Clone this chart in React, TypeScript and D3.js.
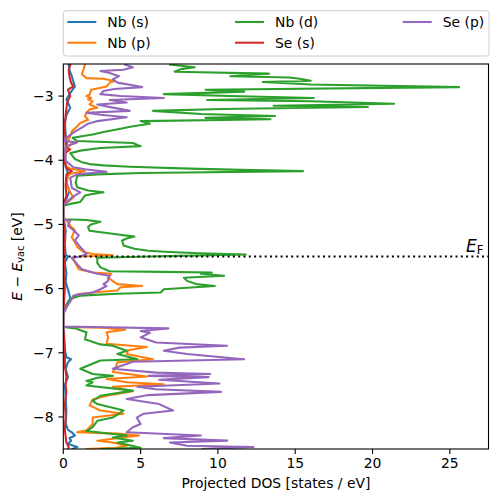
import React from 'react';
import * as d3 from 'd3';

type Pt = [number, number]; // [energy (eV), projected DOS (states/eV)]

const nbS: Pt[] = [
  [-2.51, 0.35], [-2.6, 0.4], [-2.69, 0.55], [-2.85, 0.75], [-2.95, 0.45], [-3.05, 0.2], [-3.18, 0.45],
  [-3.3, 0.2], [-3.4, 0.1], [-3.6, 0.15], [-3.72, 0.25], [-3.85, 0.1], [-4.1, 0.15], [-4.2, 0.3],
  [-4.35, 0.2], [-4.48, 0.4], [-4.6, 0.2], [-4.7, 0], [-4.92, 0], [-5.0, 0.1], [-5.1, 0.15], [-5.3, 0.1],
  [-5.47, 0.15], [-5.5, 0.3], [-5.6, 0.1], [-5.75, 0.2], [-5.9, 0.15], [-6.01, 0.3], [-6.15, 0.45],
  [-6.25, 0.2], [-6.39, 0], [-6.6, 0], [-6.7, 0.05], [-6.95, 0.1], [-7.07, 0.2], [-7.1, 0.5], [-7.15, 0.3],
  [-7.25, 0.15], [-7.38, 0.3], [-7.5, 0.1], [-7.7, 0.15], [-7.9, 0.2], [-8.1, 0.15], [-8.2, 0.3],
  [-8.24, 0.55], [-8.29, 0.75], [-8.33, 0.4], [-8.37, 0.5], [-8.42, 0.3], [-8.47, 0.9], [-8.5, 0.6],
];

const nbP: Pt[] = [
  [-2.51, 1.4], [-2.59, 1.3], [-2.66, 1.2], [-2.72, 1.5], [-2.73, 2.6], [-2.77, 3.3], [-2.79, 3.0],
  [-2.85, 2.8], [-2.9, 1.8], [-2.98, 1.7], [-3.0, 1.5], [-3.03, 1.8], [-3.05, 1.6], [-3.08, 1.9],
  [-3.13, 1.7], [-3.18, 2.2], [-3.21, 1.7], [-3.26, 1.5], [-3.31, 1.4], [-3.37, 1.6], [-3.42, 1.1],
  [-3.47, 0.9], [-3.55, 0.55], [-3.62, 0.45], [-3.7, 0.3], [-3.73, 0.8], [-3.76, 0.45], [-3.83, 0.2],
  [-3.88, 0.1], [-4.01, 0.1], [-4.1, 0.2], [-4.13, 0.45], [-4.17, 1.4], [-4.21, 0.45], [-4.24, 0.3],
  [-4.39, 0.2], [-4.5, 0.45], [-4.58, 0.65], [-4.65, 0.3], [-4.71, 0], [-4.92, 0], [-4.94, 0.2],
  [-5.02, 0.45], [-5.09, 0.75], [-5.2, 0.55], [-5.28, 0.75], [-5.35, 0.9], [-5.43, 1.3], [-5.46, 1.9],
  [-5.48, 3.2], [-5.5, 1.1], [-5.52, 0.55], [-5.59, 0.75], [-5.7, 1.0], [-5.75, 1.9], [-5.77, 3.1],
  [-5.83, 2.9], [-5.9, 3.3], [-5.93, 3.5], [-5.96, 5.1], [-5.98, 3.7], [-6.03, 3.5], [-6.06, 1.9],
  [-6.09, 0.9], [-6.14, 0.65], [-6.19, 0.45], [-6.29, 0.2], [-6.39, 0], [-6.6, 0], [-6.61, 2.5],
  [-6.64, 4.0], [-6.68, 2.8], [-6.76, 2.9], [-6.86, 2.8], [-6.91, 5.4], [-6.96, 4.2], [-7.02, 4.1],
  [-7.1, 5.8], [-7.15, 3.5], [-7.22, 3.4], [-7.3, 3.2], [-7.37, 5.4], [-7.41, 2.8], [-7.46, 4.1],
  [-7.49, 6.5], [-7.53, 3.2], [-7.6, 4.5], [-7.67, 2.8], [-7.73, 1.9], [-7.82, 1.7], [-7.9, 2.4],
  [-7.95, 3.9], [-8.01, 1.9], [-8.11, 1.9], [-8.21, 1.5], [-8.24, 0.9], [-8.26, 3.5], [-8.29, 4.9],
  [-8.37, 2.2], [-8.4, 3.2], [-8.45, 4.1], [-8.48, 3.4], [-8.5, 1.5],
];

const nbD: Pt[] = [
  [-2.51, 6.9], [-2.55, 8.5], [-2.58, 7.6], [-2.62, 7.2], [-2.65, 13.3], [-2.69, 10.8], [-2.71, 14.6],
  [-2.73, 15.3], [-2.76, 16.0], [-2.78, 12.9], [-2.82, 16.0], [-2.86, 25.6], [-2.9, 9.2], [-2.93, 11.7],
  [-2.95, 9.2], [-2.97, 6.5], [-3.0, 10.8], [-3.03, 16.2], [-3.06, 9.3], [-3.08, 16.0], [-3.12, 21.4],
  [-3.15, 13.6], [-3.17, 19.7], [-3.2, 10.2], [-3.23, 5.8], [-3.28, 8.9], [-3.31, 13.7], [-3.34, 9.2],
  [-3.36, 13.4], [-3.39, 5.0], [-3.43, 5.6], [-3.47, 4.5], [-3.51, 3.7], [-3.56, 2.6], [-3.6, 1.9],
  [-3.65, 0.6], [-3.7, 0.9], [-3.73, 4.5], [-3.78, 5.0], [-3.81, 2.4], [-3.85, 1.1], [-3.89, 0.45],
  [-3.98, 0.75], [-4.03, 1.2], [-4.06, 1.7], [-4.08, 2.6], [-4.1, 4.3], [-4.13, 8.2], [-4.15, 11.5],
  [-4.17, 15.5], [-4.19, 8.0], [-4.2, 5.0], [-4.22, 2.2], [-4.24, 0.9], [-4.35, 0.8], [-4.42, 0.9],
  [-4.47, 1.6], [-4.5, 2.6], [-4.53, 1.8], [-4.55, 1.4], [-4.65, 1.1], [-4.68, 0.45], [-4.71, 0],
  [-4.92, 0], [-4.93, 1.5], [-4.96, 2.4], [-5.0, 1.8], [-5.04, 1.6], [-5.1, 1.7], [-5.15, 3.3],
  [-5.19, 4.6], [-5.22, 4.1], [-5.25, 3.8], [-5.33, 3.9], [-5.38, 4.6], [-5.41, 5.5], [-5.43, 6.9],
  [-5.45, 8.8], [-5.47, 11.8], [-5.49, 7.5], [-5.5, 5.6], [-5.52, 2.2], [-5.6, 2.2], [-5.67, 2.4],
  [-5.73, 3.0], [-5.74, 6.5], [-5.75, 9.6], [-5.77, 8.9], [-5.8, 10.4], [-5.83, 7.8], [-5.88, 8.0],
  [-5.93, 8.6], [-5.96, 9.8], [-6.01, 6.5], [-6.06, 6.3], [-6.08, 3.5], [-6.11, 1.1], [-6.16, 0.45],
  [-6.25, 0.25], [-6.35, 0.1], [-6.39, 0], [-6.6, 0], [-6.62, 0.8], [-6.65, 1.1], [-6.68, 1.5],
  [-6.79, 1.4], [-6.87, 2.4], [-6.89, 3.2], [-6.97, 4.1], [-7.02, 3.5], [-7.1, 4.8], [-7.12, 2.4],
  [-7.25, 1.1], [-7.33, 1.9], [-7.36, 3.2], [-7.39, 2.2], [-7.44, 1.5], [-7.46, 1.9], [-7.51, 1.5],
  [-7.59, 4.5], [-7.67, 2.4], [-7.75, 1.9], [-7.8, 2.2], [-7.9, 3.9], [-8.01, 3.2], [-8.06, 2.2],
  [-8.16, 1.9], [-8.22, 1.5], [-8.29, 4.1], [-8.32, 3.2], [-8.37, 4.5], [-8.4, 3.5], [-8.48, 5.0],
  [-8.5, 2.4],
];

const seS: Pt[] = [
  [-2.51, 0.45], [-2.6, 0.35], [-2.7, 0.4], [-2.79, 0.5], [-2.85, 0.65], [-2.9, 0.3], [-3.0, 0.45],
  [-3.1, 0.25], [-3.2, 0.2], [-3.3, 0.15], [-3.5, 0.1], [-3.8, 0.15], [-3.83, 0.45], [-3.88, 0.15],
  [-4.05, 0.1], [-4.13, 0.25], [-4.17, 0.55], [-4.22, 0.2], [-4.4, 0.15], [-4.55, 0.2], [-4.7, 0],
  [-4.92, 0], [-5.1, 0.05], [-5.4, 0.05], [-5.5, 0.1], [-5.8, 0.05], [-6.0, 0.1], [-6.39, 0], [-6.6, 0],
  [-6.8, 0.05], [-7.0, 0.1], [-7.2, 0.1], [-7.38, 0.2], [-7.5, 0.15], [-7.6, 0.2], [-7.8, 0.1],
  [-8.0, 0.15], [-8.2, 0.1], [-8.4, 0.2], [-8.47, 0.35], [-8.5, 0.3],
];

const seP: Pt[] = [
  [-2.51, 4.0], [-2.55, 4.5], [-2.59, 3.9], [-2.61, 2.4], [-2.64, 3.0], [-2.69, 3.6], [-2.74, 3.2],
  [-2.79, 3.5], [-2.86, 5.1], [-2.89, 3.3], [-2.92, 2.6], [-2.97, 2.4], [-3.0, 3.7], [-3.03, 6.5],
  [-3.06, 3.0], [-3.1, 4.1], [-3.13, 2.2], [-3.18, 3.2], [-3.23, 4.3], [-3.26, 1.5], [-3.29, 2.4],
  [-3.33, 4.1], [-3.39, 2.2], [-3.43, 1.6], [-3.49, 1.2], [-3.57, 0.65], [-3.65, 0.2], [-3.7, 0.05],
  [-3.72, 0.9], [-3.78, 0.2], [-3.85, 0.1], [-4.01, 0.15], [-4.11, 0.65], [-4.14, 1.4], [-4.18, 2.8],
  [-4.22, 0.9], [-4.27, 0.45], [-4.43, 0.55], [-4.5, 1.1], [-4.58, 0.55], [-4.68, 0.1], [-4.71, 0],
  [-4.92, 0], [-4.94, 0.45], [-5.02, 0.3], [-5.09, 0.65], [-5.17, 1.0], [-5.25, 0.75], [-5.38, 1.2],
  [-5.46, 1.5], [-5.5, 1.1], [-5.52, 0.55], [-5.62, 0.9], [-5.7, 1.2], [-5.77, 2.2], [-5.8, 3.0],
  [-5.85, 2.9], [-5.88, 2.9], [-5.93, 2.6], [-5.96, 2.8], [-6.01, 2.4], [-6.06, 1.9], [-6.09, 1.1],
  [-6.11, 0.65], [-6.16, 0.55], [-6.29, 0.2], [-6.39, 0], [-6.59, 0], [-6.62, 6.8], [-6.66, 5.0],
  [-6.69, 5.6], [-6.76, 5.0], [-6.84, 6.0], [-6.89, 10.6], [-6.92, 7.5], [-6.97, 6.5], [-7.02, 8.0],
  [-7.1, 11.7], [-7.14, 4.5], [-7.25, 3.2], [-7.31, 6.0], [-7.33, 9.5], [-7.36, 5.5], [-7.38, 9.4],
  [-7.42, 6.2], [-7.48, 10.1], [-7.53, 4.8], [-7.57, 6.0], [-7.61, 10.2], [-7.66, 5.5], [-7.72, 4.1],
  [-7.8, 6.2], [-7.9, 7.1], [-7.95, 5.2], [-8.01, 4.75], [-8.11, 5.0], [-8.16, 4.5], [-8.24, 4.1],
  [-8.29, 8.9], [-8.33, 6.5], [-8.37, 10.6], [-8.4, 6.9], [-8.45, 8.0], [-8.47, 12.3], [-8.5, 9.0],
];

const seriesLabels = ['Nb (s)', 'Nb (p)', 'Nb (d)', 'Se (s)', 'Se (p)'];
const seriesColors = ['#1f77b4', '#ff7f0e', '#2ca02c', '#d62728', '#9467bd'];
const seriesData = [nbS, nbP, nbD, seS, seP];

const xTicks = [0, 5, 10, 15, 20, 25];
const yTicks = [-3, -4, -5, -6, -7, -8];
const xDomain: [number, number] = [0, 27.5];
const yDomain: [number, number] = [-8.5, -2.5];
const fermiLevel = -5.5;

const W = 498;
const H = 502;
const M = { left: 63.3, right: 488.5, top: 64, bottom: 449 };
const FONT = 'DejaVu Sans';
const FS = 13.9;
const LW = 2.08;

export default function App() {
  const x = d3.scaleLinear().domain(xDomain).range([M.left, M.right]);
  const y = d3.scaleLinear().domain(yDomain).range([M.bottom, M.top]);
  const line = d3.line<Pt>().x((d) => x(d[1])).y((d) => y(d[0]));
  const fmt = (v: number) => (v < 0 ? '\u2212' + Math.abs(v) : String(v));

  const legendCols = [67.3, 235, 402.7];
  const legendRows = [22, 42.7];

  return (
    <svg width={W} height={H} style={{ position: 'absolute', left: 0, top: 0, background: '#fff' }}
      fontFamily={FONT}>
      <defs>
        <clipPath id="plotclip">
          <rect x={M.left} y={M.top} width={M.right - M.left} height={M.bottom - M.top} />
        </clipPath>
      </defs>
      <rect x={0} y={0} width={W} height={H} fill="#fff" />
      <g clipPath="url(#plotclip)">
        {seriesData.map((d, i) => (
          <path key={i} d={line(d) || ''} fill="none" stroke={seriesColors[i]} strokeWidth={LW}
            strokeLinejoin="round" strokeLinecap="square" />
        ))}
        <line x1={x(xDomain[0])} x2={x(xDomain[1])} y1={y(fermiLevel)} y2={y(fermiLevel)}
          stroke="#000" strokeWidth={2} strokeDasharray="2 3.3" />
      </g>
      <text x={x(26.05)} y={251.7} fontSize={17} fill="#000">
        <tspan fontStyle="italic">E</tspan>
        <tspan fontSize={11.8} dy={2}>F</tspan>
      </text>
      <rect x={M.left} y={M.top} width={M.right - M.left} height={M.bottom - M.top} fill="none"
        stroke="#000" strokeWidth={1.1} />
      {xTicks.map((t) => (
        <g key={t}>
          <line x1={x(t)} x2={x(t)} y1={M.bottom} y2={M.bottom + 4.9} stroke="#000" strokeWidth={1.1} />
          <text x={x(t)} y={468.3} fontSize={FS} textAnchor="middle" fill="#000">{fmt(t)}</text>
        </g>
      ))}
      {yTicks.map((t) => (
        <g key={t}>
          <line x1={M.left - 4.9} x2={M.left} y1={y(t)} y2={y(t)} stroke="#000" strokeWidth={1.1} />
          <text x={M.left - 9.8} y={y(t) + 5} fontSize={FS} textAnchor="end" fill="#000">{fmt(t)}</text>
        </g>
      ))}
      <text x={(M.left + M.right) / 2} y={487.5} fontSize={FS} textAnchor="middle" fill="#000">
        Projected DOS [states / eV]
      </text>
      <text transform={`translate(21.5,${(M.top + M.bottom) / 2}) rotate(-90)`} fontSize={FS}
        textAnchor="middle" fill="#000">
        <tspan fontStyle="italic">E</tspan>
        <tspan>{' \u2212 '}</tspan>
        <tspan fontStyle="italic">E</tspan>
        <tspan fontSize={9.7} dy={2.5}>vac</tspan>
        <tspan dy={-2.5}>{' [eV]'}</tspan>
      </text>
      <rect x={M.left} y={10.7} width={M.right - M.left + 0.5} height={45.3} rx={2.8} fill="#fff"
        fillOpacity={0.8} stroke="#cccccc" strokeWidth={1} />
      {seriesLabels.map((lab, i) => {
        const cx = legendCols[Math.floor(i / 2)];
        const cy = legendRows[i % 2];
        return (
          <g key={lab}>
            <line x1={cx} x2={cx + 29} y1={cy} y2={cy} stroke={seriesColors[i]} strokeWidth={LW} />
            <text x={cx + 40} y={cy + 5} fontSize={FS} fill="#000">{lab}</text>
          </g>
        );
      })}
    </svg>
  );
}
